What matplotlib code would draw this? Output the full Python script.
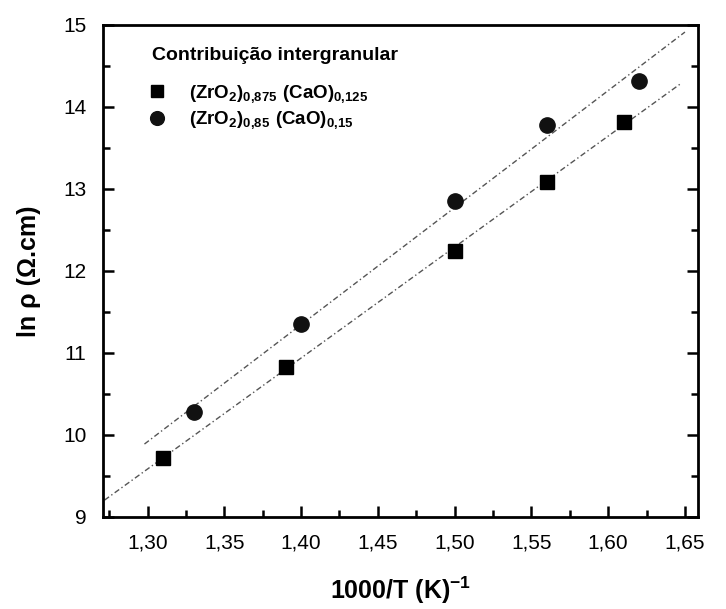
import matplotlib
matplotlib.use("Agg")
import matplotlib.pyplot as plt
from matplotlib.ticker import MultipleLocator, FuncFormatter
import numpy as np

plt.rcParams['font.family'] = ['Liberation Sans', 'DejaVu Sans']
plt.rcParams['mathtext.fontset'] = 'custom'
plt.rcParams['mathtext.rm'] = 'Liberation Sans'
plt.rcParams['mathtext.bf'] = 'Liberation Sans:bold'

# data
x_sq = [1.31, 1.39, 1.50, 1.56, 1.61]
y_sq = [9.72, 10.83, 12.25, 13.08, 13.82]
x_ci = [1.33, 1.40, 1.50, 1.56, 1.62]
y_ci = [10.28, 11.35, 12.85, 13.78, 14.32]
fit_range_sq = [1.272, 1.648]
fit_range_ci = [1.298, 1.650]

label_sq = r'$\mathbf{(ZrO_2)_{0{,}875}\ (CaO)_{0{,}125}}$'
label_ci = r'$\mathbf{(ZrO_2)_{0{,}85}\ (CaO)_{0{,}15}}$'

fig = plt.figure(figsize=(7.26, 6.09), dpi=100)
ax = fig.add_axes([103/726, 1 - 517/609, (698-103)/726, (517-25)/609])

for xs, ys, rng in [(x_sq, y_sq, fit_range_sq), (x_ci, y_ci, fit_range_ci)]:
    p = np.polyfit(xs, ys, 1)
    xx = np.array(rng)
    ax.plot(xx, np.polyval(p, xx), color='#555555', lw=1.0,
            linestyle=(0, (4, 2, 1, 2)), zorder=1)

ax.plot(x_sq, y_sq, 's', color='black', ms=10, label=label_sq, zorder=3)
ax.plot(x_ci, y_ci, 'o', color='#111111', ms=11, label=label_ci, zorder=3)

ax.set_xlim(1.271, 1.6585)
ax.set_ylim(9, 15)
ax.xaxis.set_major_locator(MultipleLocator(0.05))
ax.xaxis.set_minor_locator(MultipleLocator(0.025))
ax.yaxis.set_major_locator(MultipleLocator(1))
ax.yaxis.set_minor_locator(MultipleLocator(0.5))
ax.xaxis.set_major_formatter(FuncFormatter(lambda v, _: f"{v:.2f}".replace('.', ',')))
ax.yaxis.set_major_formatter(FuncFormatter(lambda v, _: f"{v:.0f}"))

ax.tick_params(which='both', direction='in', right=True, top=False,
               labelsize=15, width=1.8)
ax.tick_params(which='major', length=8)
ax.tick_params(which='minor', length=5)
ax.tick_params(axis='x', which='major', pad=12)
ax.tick_params(axis='y', which='major', pad=12)
for s in ax.spines.values():
    s.set_linewidth(2)

ax.set_xlabel(r'1000/T (K)$^{\mathbf{-1}}$', fontsize=18, fontweight='bold', labelpad=16)
ax.set_ylabel('ln ρ (Ω.cm)', fontsize=18, fontweight='bold', labelpad=16)

ax.text((152-103)/595, (517-55)/492, 'Contribuição intergranular',
        transform=ax.transAxes, fontsize=14, fontweight='bold', va='center', ha='left')

leg = ax.legend(loc='upper left', bbox_to_anchor=((150-103)/595, (517-83)/492),
                frameon=False, fontsize=13.5, handlelength=0.7, handletextpad=1.4,
                borderaxespad=0, borderpad=0, labelspacing=0.25, markerscale=0.9)

fig.savefig('out.png', dpi=100)
